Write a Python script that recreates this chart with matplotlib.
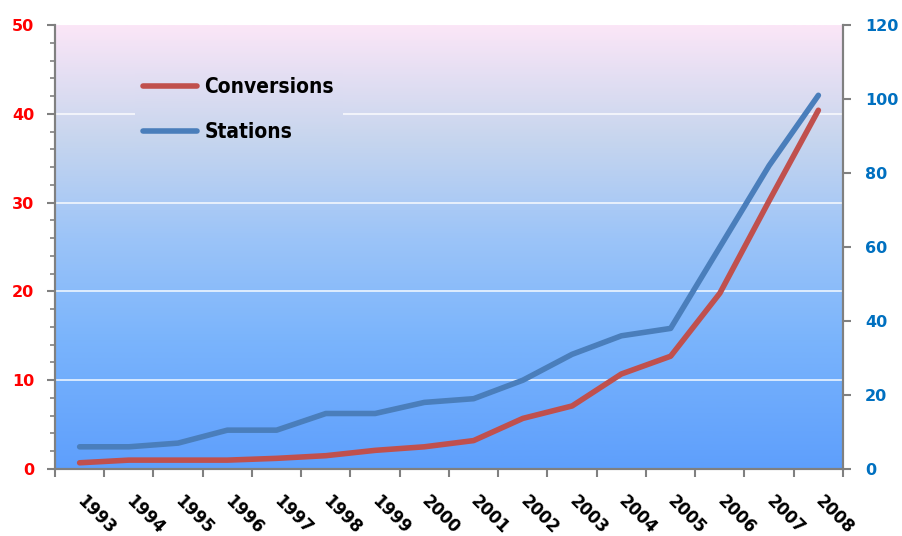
import matplotlib
matplotlib.use("Agg")
import matplotlib.pyplot as plt
import numpy as np
from matplotlib.colors import LinearSegmentedColormap
from matplotlib.patches import Rectangle
from matplotlib.ticker import MultipleLocator, FixedLocator, NullLocator

years = ["1993", "1994", "1995", "1996", "1997", "1998", "1999", "2000",
         "2001", "2002", "2003", "2004", "2005", "2006", "2007", "2008"]
conversions = [0.7, 1.0, 1.0, 1.0, 1.2, 1.5, 2.1, 2.5, 3.2, 5.7, 7.1, 10.7, 12.7, 19.8, 30.2, 40.4]
stations = [6, 6, 7, 10.5, 10.5, 15, 15, 18, 19, 24, 31, 36, 38, 60, 82, 101]

fig = plt.figure(figsize=(9.03, 5.36), dpi=100)
rect_pos = [55/903, 1-469/536, (843-55)/903, (469-25)/536]
bg = fig.add_axes(rect_pos, zorder=0)
ax = fig.add_axes(rect_pos, zorder=1)
ax2 = ax.twinx()
ax2.set_zorder(2)
ax.patch.set_visible(False)
ax2.patch.set_visible(False)

x = np.arange(len(years))
xl = (-0.5, len(years)-0.5)

# gradient background
cmap = LinearSegmentedColormap.from_list("bg", [
    (0.0, "#fbe6f7"), (0.25, "#c8d6ee"), (0.48, "#9cc4f8"),
    (0.71, "#7ab4fc"), (1.0, "#5e9ffc")])
grad = np.linspace(0, 1, 256).reshape(-1, 1)
bg.imshow(grad, cmap=cmap, aspect="auto", extent=(xl[0], xl[1], 0, 50),
          origin="upper", zorder=0)
for v in [10, 20, 30, 40]:
    bg.axhline(v, color="white", lw=1.2, alpha=0.85, zorder=1)
bg.set_xlim(*xl)
bg.set_ylim(0, 50)
bg.axis("off")

ax.set_xlim(*xl)
ax.set_ylim(0, 50)
ax2.set_ylim(0, 120)

red = "#c0504d"
blue = "#4a7ebb"
l1, = ax.plot(x, conversions, color=red, lw=4, solid_capstyle="round", zorder=3)
l2, = ax2.plot(x, stations, color=blue, lw=4, solid_capstyle="round", zorder=3)

gray = "#808080"
for a in (ax, ax2):
    for s in a.spines.values():
        s.set_color(gray)
        s.set_linewidth(1.5)
    a.spines["top"].set_visible(False)

ax.yaxis.set_major_locator(MultipleLocator(10))
ax.yaxis.set_minor_locator(MultipleLocator(2))
ax.tick_params(axis="y", which="major", direction="out", length=6, width=1.5, color=gray,
               labelcolor="#ff0000", labelsize=11.5, pad=9)
ax.tick_params(axis="y", which="minor", direction="out", length=3.5, width=1.2, color=gray)
for t in ax.get_yticklabels():
    t.set_fontweight("bold")

ax2.yaxis.set_major_locator(MultipleLocator(20))
ax2.yaxis.set_minor_locator(NullLocator())
ax2.tick_params(axis="y", which="major", direction="out", length=6, width=1.5, color=gray,
                labelcolor="#0070c0", labelsize=11.5, pad=10)
for t in ax2.get_yticklabels():
    t.set_fontweight("bold")

ax.set_xticks(x)
ax.set_xticklabels(years, rotation=-45, ha="left", va="center", rotation_mode="anchor",
                   fontsize=12, fontweight="bold", color="black")
ax.xaxis.set_minor_locator(FixedLocator(np.arange(-0.5, len(years), 1.0)))
ax.tick_params(axis="x", which="major", length=0, pad=21)
ax.tick_params(axis="x", which="minor", direction="out", length=6, width=1.5, color=gray)
ax2.tick_params(axis="x", which="both", length=0)

leg = ax2.legend([l1, l2], ["Conversions", "Stations"], loc="upper left",
                 bbox_to_anchor=(0.088, 0.925), frameon=False, handlelength=2.6,
                 handletextpad=0.35, labelspacing=1.2,
                 prop={"family": "DejaVu Sans", "stretch": "condensed",
                       "weight": "bold", "size": 15})

# cover gridline behind legend with the same gradient
fig.canvas.draw()
bb = leg.get_window_extent().transformed(bg.transData.inverted())
rect = Rectangle((bb.x0, bb.y0), bb.width, bb.height, transform=bg.transData)
im2 = bg.imshow(grad, cmap=cmap, aspect="auto", extent=(xl[0], xl[1], 0, 50),
                origin="upper", zorder=2)
im2.set_clip_path(rect)
bg.set_xlim(*xl)
bg.set_ylim(0, 50)

fig.savefig("out.png", dpi=100)
